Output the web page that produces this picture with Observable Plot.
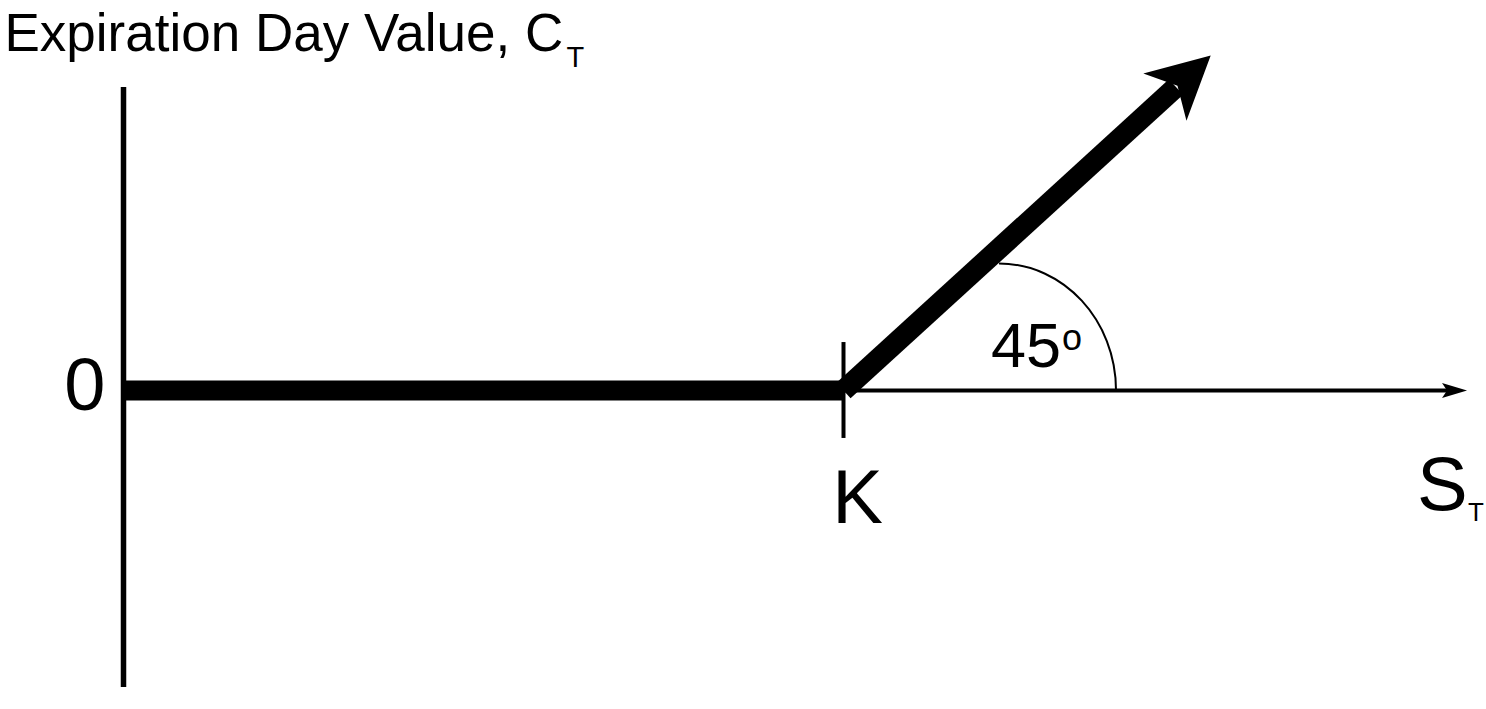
<!DOCTYPE html>
<html>
<head>
<meta charset="utf-8">
<script src="https://cdn.jsdelivr.net/npm/d3@7"></script>
<script src="https://cdn.jsdelivr.net/npm/@observablehq/plot@0.6"></script>
<style>
  html, body { margin: 0; padding: 0; background: #fff; }
  #chart svg { display: block; }
</style>
</head>
<body>
<div id="chart"></div>
<script>
// ---- data ----
const strike = 50;                       // K on the S_T axis
const payoffS = [0, 50, 75.5];           // S_T at the payoff line's vertices
const payoffC = [0, 0, 25.5];            // C_T at the payoff line's vertices
const sAxisEnd = 93.3;                   // tip of the S_T axis arrow
const cAxisExtent = [-22.6, 23.06];      // vertical (C_T) axis extent
const kTickHalf = 3.65;                  // half length of the K tick
const arcCenterS = 60.8;                 // where the 45° arc is anchored
const titleMain = "Expiration Day Value, C";
const titleSub = "T";
const labelZero = "0";
const labelK = "K";
const labelS = "S";
const labelSSub = "T";
const labelAngle = "45";
const labelDeg = "o";

// ---- scales ----
const W = 1486, H = 709;
const xDomain = [0, 100], xRange = [123, 123 + 100 * 14.4];
const yDomain = [-30, 30], yRange = [390 + 30 * 13.14, 390 - 30 * 13.14];
const xs = d3.scaleLinear(xDomain, xRange);
const ys = d3.scaleLinear(yDomain, yRange);

function arrowHead(len, half, notch, angle) {
  const c = Math.cos(angle), s = Math.sin(angle);
  const pts = [[0, 0], [-len, -half], [-notch, 0], [-len, half]]
    .map(([a, p]) => [a * c - p * s, a * s + p * c]);
  return {
    draw(ctx) {
      ctx.moveTo(pts[0][0], pts[0][1]);
      for (let i = 1; i < pts.length; i++) ctx.lineTo(pts[i][0], pts[i][1]);
      ctx.closePath();
    }
  };
}
const diagAngle = Math.atan2(ys(payoffC[2]) - ys(payoffC[1]), xs(payoffS[2]) - xs(payoffS[1]));
const arcSymbol = {
  draw(ctx) {
    const rx = 117, ry = 127, k = 0.5523;
    ctx.moveTo(0, -ry);
    ctx.bezierCurveTo(k * rx, -ry, rx, -k * ry, rx, 0);
  }
};

const font = "Liberation Sans, Arial, Helvetica, sans-serif";
const black = "#000";

const plot = Plot.plot({
  width: W,
  height: H,
  margin: 0,
  x: { domain: xDomain, range: xRange, axis: null },
  y: { domain: yDomain, range: yRange, axis: null },
  style: { fontFamily: font, background: "#fff", color: black },
  marks: [
    // vertical axis
    Plot.ruleX([0], { y1: cAxisExtent[0], y2: cAxisExtent[1], stroke: black, strokeWidth: 5.5 }),
    // horizontal S_T axis
    Plot.arrow([0], { x1: 0, y1: 0, x2: sAxisEnd, y2: 0, headLength: 0, insetEnd: 18,
      stroke: black, strokeWidth: 4, strokeLinecap: "butt" }),
    Plot.dot([0], { x: () => sAxisEnd, y: () => 0, symbol: arrowHead(25, 7.5, 20, 0),
      fill: black, stroke: "none" }),
    // K tick
    Plot.ruleX([strike], { y1: -kTickHalf, y2: kTickHalf, stroke: black, strokeWidth: 4 }),
    // payoff: flat part
    Plot.link([0], { x1: payoffS[0], y1: payoffC[0], x2: payoffS[1], y2: payoffC[1],
      stroke: black, strokeWidth: 20, strokeLinecap: "butt" }),
    // payoff: rising part
    Plot.arrow([0], { x1: payoffS[1], y1: payoffC[1], x2: payoffS[2], y2: payoffC[2],
      headLength: 0, insetEnd: 47, stroke: black, strokeWidth: 21, strokeLinecap: "butt" }),
    Plot.dot([0], { x: () => payoffS[2], y: () => payoffC[2], symbol: arrowHead(62, 32, 45, diagAngle),
      fill: black, stroke: "none" }),
    // 45° arc
    Plot.dot([0], { x: () => arcCenterS, y: () => 0, symbol: arcSymbol,
      fill: "none", stroke: black, strokeWidth: 2 }),
    // labels
    Plot.text([titleMain], { frameAnchor: "top-left", text: d => d, textAnchor: "start",
      lineAnchor: "bottom", dx: 4, dy: 50, fontSize: 53, fill: black }),
    Plot.text([titleSub], { frameAnchor: "top-left", text: d => d, textAnchor: "start",
      lineAnchor: "bottom", dx: 566, dy: 66, fontSize: 29, fill: black }),
    Plot.text([labelZero], { x: () => 0, y: () => 0, text: d => d, textAnchor: "end",
      lineAnchor: "bottom", dx: -18, dy: 19, fontSize: 74, fill: black }),
    Plot.text([labelK], { x: () => strike, y: () => 0, text: d => d, textAnchor: "middle",
      lineAnchor: "bottom", dx: 14, dy: 132, fontSize: 76, fill: black }),
    Plot.text([labelS], { x: () => sAxisEnd, y: () => 0, text: d => d, textAnchor: "start",
      lineAnchor: "bottom", dx: -50, dy: 119, fontSize: 76, fill: black }),
    Plot.text([labelSSub], { x: () => sAxisEnd, y: () => 0, text: d => d, textAnchor: "start",
      lineAnchor: "bottom", dx: 1, dy: 130, fontSize: 26, fill: black }),
    Plot.text([labelAngle], { x: () => arcCenterS, y: () => 0, text: d => d, textAnchor: "start",
      lineAnchor: "bottom", dx: -8, dy: -24, fontSize: 63, fill: black }),
    Plot.text([labelDeg], { x: () => arcCenterS, y: () => 0, text: d => d, textAnchor: "start",
      lineAnchor: "bottom", dx: 63, dy: -41, fontSize: 36, fill: black })
  ]
});
document.getElementById("chart").appendChild(plot);
</script>
</body>
</html>
